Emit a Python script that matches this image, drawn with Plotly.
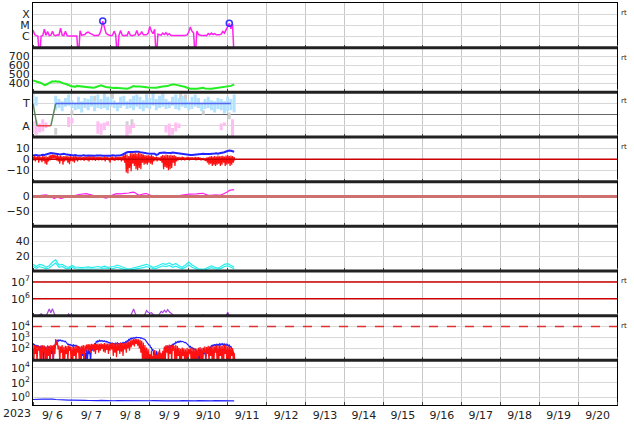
import plotly.graph_objects as go
from plotly.subplots import make_subplots
import pandas as pd

T0 = pd.Timestamp("2023-09-06 00:00")

# ---------------- data (hours since 2023-09-06 00:00) ----------------
# X-ray flux, hourly, in 1e-6 W/m2 (C1 = 1, M1 = 10, X1 = 100); 0.01 = data dropout
xray = [3.8, 1.5, 1.2, 1.1, 0.01, 1.1, 1.2, 4.5, 1.3, 2.8, 1.2, 1.3, 2.9, 1.3, 1.2, 1.4,
        1.3, 5.5, 1.3, 1.2, 3.0, 1.2, 1.1, 1.1, 1.0, 1.1, 1.0, 1.1, 0.01, 3.2, 1.3, 1.4,
        1.5, 2.2, 2.5, 2.0, 1.6, 1.3, 1.2, 1.3, 1.2, 1.6, 4.0, 24, 5.0, 2.0, 1.5, 1.3,
        1.2, 1.3, 3.0, 1.4, 0.01, 1.3, 3.5, 1.3, 1.2, 1.3, 1.2, 3.0, 1.3, 1.2, 1.3, 1.4,
        3.5, 1.3, 1.5, 2.8, 1.4, 1.3, 1.4, 2.0, 8.0, 3.0, 1.8, 4.5, 0.01, 1.6, 1.4, 1.3,
        2.0, 1.5, 2.2, 1.4, 1.8, 1.3, 1.2, 1.2, 1.1, 1.2, 1.1, 1.2, 1.1, 1.2, 1.3, 1.4,
        2.5, 7.0, 3.0, 2.0, 0.01, 3.0, 1.5, 1.3, 1.2, 1.2, 1.3, 1.2, 1.8, 1.4, 2.0, 1.5,
        1.8, 1.4, 1.3, 1.4, 1.6, 2.8, 2.0, 4.0, 8.0, 15, 5.0, 14, 0.01]
flare_hours = [43, 121]
flare_flux = [24, 15]

# Solar wind speed (km/s), hourly
wind = [433, 428, 425, 418, 414, 405, 395, 380, 385, 396, 410, 418, 424, 420, 426, 418,
        422, 415, 405, 398, 396, 388, 380, 372, 365, 368, 362, 372, 370, 365, 360, 362,
        358, 355, 350, 352, 348, 352, 355, 360, 368, 372, 378, 370, 362, 360, 358, 355,
        352, 350, 348, 352, 350, 352, 346, 342, 340, 342, 341, 345, 355, 368, 370, 366,
        362, 364, 366, 362, 364, 362, 358, 355, 352, 350, 352, 350, 352, 358, 364, 362,
        364, 366, 362, 370, 378, 385, 388, 389, 385, 378, 380, 378, 372, 365, 360, 352,
        345, 341, 340, 338, 342, 340, 343, 348, 346, 350, 344, 342, 340, 341, 339, 343,
        345, 348, 352, 350, 352, 355, 358, 362, 364, 368, 372, 380, 389]

# IMF direction panel: toward (T) / away (A) scatter spans, 2-hour bins
toward_h = [0, 2] + list(range(14, 125, 2))
toward_lo = [0.35, 0.4, 0.2, 0.3, 0.15, 0.35, 0.4, 0.3, 0.2, 0.25, 0.1, 0.3, 0.2, 0.35, 0.15,
             0.3, 0.25, 0.3, 0.2, 0.35, 0.3, 0.15, 0.3, 0.4, 0.25, 0.3, 0.2, 0.35, 0.25, 0.15,
             0.3, 0.25, 0.4, 0.2, 0.3, 0.35, 0.25, 0.3, 0.4, 0.25, 0.2, 0.35, 0.3, 0.2, 0.25,
             0.35, 0.3, 0.15, 0.25, 0.3, 0.2, 0.1, 0.25, 0.2, 0.05, 0.15, 0.2, 0.1]
toward_hi = [0.95, 0.8, 0.85, 0.7, 0.6, 0.75, 0.9, 0.65, 0.55, 0.8, 0.6, 0.75, 0.7, 0.85, 0.6,
             0.9, 0.7, 0.95, 0.8, 0.75, 0.65, 0.55, 0.8, 0.85, 0.6, 0.7, 0.85, 0.9, 0.8, 0.65,
             0.9, 0.75, 0.95, 0.7, 0.85, 0.95, 0.7, 0.6, 0.8, 0.9, 0.75, 0.85, 0.7, 0.6, 0.8,
             0.9, 0.75, 0.55, 0.7, 0.8, 0.65, 0.6, 0.75, 0.7, 0.6, 0.8, 0.7, 0.9]
away_h = [0, 2, 4, 6, 8, 22, 24, 40, 42, 44, 46, 58, 60, 62, 82, 84, 86, 88, 90, 116, 118, 123]
away_lo = [-0.85, -0.9, -0.8, -0.75, -0.6, -0.55, -0.4, -0.85, -0.9, -0.7, -0.5, -0.95, -0.85,
           -0.6, -0.8, -0.95, -0.9, -0.75, -0.6, -0.7, -0.5, -0.95]
away_hi = [-0.3, -0.25, -0.4, -0.2, -0.35, -0.1, -0.15, -0.3, -0.4, -0.35, -0.3, -0.45, -0.5,
           -0.4, -0.5, -0.4, -0.6, -0.35, -0.4, -0.4, -0.35, -0.2]
grey_h = [14, 24, 38, 49, 58, 61, 70, 80, 91, 94, 105, 121]
grey_lo = [-0.9, 0.0, 0.6, 0.7, -0.9, -0.6, 0.8, 0.6, 0.6, 0.7, 0.0, -0.2]
grey_hi = [-0.6, 0.2, 0.85, 0.95, -0.3, -0.2, 0.9, 0.95, 0.95, 0.9, 0.2, 0.1]
sector_h = [0, 2.5, 11, 14, 122]
sector_v = [0.5, -0.5, -0.5, 0.5, 0.5]

# IMF Bt (blue), nT, hourly
bt = [3.5, 3.8, 4.0, 3.6, 3.4, 3.8, 4.2, 3.9, 4.5, 5.0, 5.4, 5.8, 5.6, 5.2,
      4.8, 5.0, 4.6, 4.4, 4.9, 5.2, 4.7, 4.3, 4.0, 4.2, 3.8, 3.6, 3.9, 3.5,
      3.4, 3.6, 3.2, 3.8, 3.5, 3.3, 3.6, 3.4, 3.7, 3.5, 3.2, 3.6, 3.8, 3.5,
      3.6, 3.4, 3.3, 3.7, 3.5, 3.6, 3.4, 3.8, 3.5, 3.3, 3.6, 3.5, 3.8, 4.2,
      5.0, 6.0, 6.5, 6.8, 7.0, 7.2, 6.8, 6.9, 7.3, 7.0, 6.6, 6.2, 5.8, 5.5,
      5.6, 5.4, 5.3, 5.6, 5.5, 5.2, 4.0, 4.5, 5.8, 6.2, 6.0, 6.3, 6.1, 5.9,
      6.0, 5.8, 6.2, 6.0, 5.7, 5.5, 5.2, 4.8, 4.5, 4.2, 4.0, 4.3, 4.1, 3.9,
      4.0, 4.2, 4.0, 4.4, 4.5, 4.8, 5.0, 5.2, 4.9, 5.1, 5.0, 4.8, 5.2, 5.0,
      5.3, 5.5, 5.2, 5.6, 5.8, 6.0, 6.5, 7.2, 7.8, 8.0, 7.8, 7.6, 7.0]
# IMF Bz (red), hourly upper / lower values
bz_hi = [2.5, 3, 2, 3.5, 2.8, 2, 3, 2.5, 3, 2, 3.5, 4, 4.2, 4,
         3.5, 4, 3, 3.5, 2.5, 3, 2.8, 3.2, 2.5, 3, 2.2, 2.8, 3, 2.5,
         2, 2.5, 1.8, 2.2, 2.5, 2, 2.8, 2.4, 2, 2.5, 2.2, 2, 2.4, 2,
         2.2, 1.8, 2.5, 2, 2.2, 1.5, 2, 2.4, 1.8, 2.2, 2, 2.5, 2.2, 2.8,
         4, 5, 4.5, 3, 5.5, 6, 5, 6.5, 5, 6, 5.5, 5, 4.5, 4,
         3.5, 4, 3, 4.5, 3, 2, 2.5, 2, 1.5, 3, 4, 3.5, 4.5, 4,
         3.8, 4.2, 3.5, 4, 3, 2, 2.2, 1.8, 2.5, 2, 1.5, 2.2, 2, 1.8,
         2, 1.5, 2.2, 1.8, 2, 1.5, 1, 1.2, 0.8, 1.5, 2, 2.5, 3, 2.5,
         3, 2.5, 3.5, 2.8, 3, 3.2, 2.5, 3.5, 4, 3, 3.5, 3, 2]
bz_lo = [-1, -2, -0.5, -3, -1, -2.5, -1.5, -4, -5, -2, -1, 0.5, 1, 0.8,
         -1, -2, -4, -1.5, -5, -2, -1, -3, -4.5, -1.5, -2, -3, -1, -2,
         -0.5, -1, 0, -1.5, -0.5, -1, -2, -0.5, -1, 0, -1.5, -0.5, -1, 0,
         -1, -0.5, -2, -0.5, -1, -3, -0.5, -1, -1.5, 0, -1, -0.5, -2, -1,
         -3, -12, -13, -8, -11, -4, -6, -9, -10, -8, -9, -3, -5, -4,
         -5, -3, -4, -5, -2, -1, -2, -1, -1.5, -3, -9, -7, -8, -10,
         -9, -8, -3, -6, -2, -1, -0.5, -1, 0, -1, -0.5, 0, -1, -0.5,
         0, -0.5, -1, 0, -0.5, -1, -0.5, -1, -1.5, -3, -5, -4, -6, -5,
         -6, -5, -4, -6, -5, -3, -6, -5, -4, -6, -5, -3, -1]

# Dst index (nT), hourly
dst = [1, 0, 2, 1, 3, 4, 5, 6, 6, 4, 2, 0, -3, -7, -5, -2,
       -4, -6, -5, -3, -1, -2, -1, 0, 0, 2, 4, 5, 7, 8, 9, 9,
       10, 10, 8, 6, 5, 4, 3, 3, 2, 1, -1, -3, -4, -5, -4, -2,
       2, 5, 8, 9, 10, 9, 9, 10, 10, 11, 10, 12, 13, 14, 15, 13,
       9, 5, 6, 8, 9, 10, 10, 8, 5, 2, 0, 1, 1, 2, 2, 2,
       2, 1, 0, -1, -2, -3, -3, -2, 0, 2, 3, 4, 5, 5, 6, 7,
       8, 8, 8, 7, 8, 9, 10, 11, 12, 11, 8, 5, 4, 4, 5, 5,
       5, 6, 5, 5, 6, 8, 10, 12, 16, 21, 22, 23, 23]

# Cyan pair, 2-hourly
cyan_hi = [9, 6, 9, 8, 5, 7, 12, 15, 8, 9, 6, 5, 7.5, 5, 5, 4.5, 5, 5.5, 4.5, 5, 6, 5, 6.5,
           5, 5, 6, 8, 6, 4, 3, 3, 4, 5.5, 6, 7, 9, 7, 5, 6, 8, 10, 9, 11, 8, 10, 7, 5, 8,
           12, 8, 5, 3, 2.5, 3, 5, 7, 5, 4, 6, 9, 10, 8, 5]
cyan_lo = [6, 3.5, 6, 5, 3, 4, 8, 11, 5, 6, 3.5, 3, 5, 3, 2.5, 2.5, 3, 3, 2.5, 3, 3.5, 3,
           4, 3, 3, 3.5, 5, 3.5, 2, 1.5, 1.5, 2, 3, 3.5, 4.5, 6, 4.5, 3, 3.5, 5, 7, 6, 7.5,
           5, 6.5, 4.5, 3, 5, 8, 5, 3, 1.5, 1.2, 1.5, 3, 4.5, 3, 2.5, 3.5, 6, 7, 5, 3]

# Electron flux (purple), hourly
electron = [6e4, 5e4, 7e4, 8e4, 1.1e5, 1.3e5, 1.1e5, 8e4, 9e4, 1.6e5, 2.5e5, 1.5e5, 2.6e5,
            1.4e5, 8e4, 6e4, 5e4, 4e4, 5e4, 6e4, 7e4, 9e4, 1.3e5, 8e4, 6e4, 5e4, 4e4, 4e4,
            3e4, 4e4, 5e4, 4e4, 3e4, 4e4, 5e4, 4e4, 3e4, 4e4, 5e4, 6e4, 5e4, 4e4, 5e4, 4e4,
            5e4, 6e4, 5e4, 4e4, 5e4, 6e4, 7e4, 6e4, 5e4, 6e4, 7e4, 8e4, 7e4, 6e4, 7e4, 8e4,
            9e4, 1.5e5, 2.5e5, 1.4e5, 9e4, 8e4, 7e4, 8e4, 9e4, 1.2e5, 2.0e5, 1.6e5, 1.4e5,
            1.5e5, 1.2e5, 9e4, 8e4, 9e4, 1.3e5, 1.8e5, 1.5e5, 2.1e5, 1.6e5, 2.3e5, 1.7e5,
            1.5e5, 1.2e5, 9e4, 8e4, 7e4, 6e4, 5e4, 6e4, 5e4, 4e4, 5e4, 6e4, 5e4, 4e4, 5e4,
            6e4, 7e4, 8e4, 9e4, 9e4, 1.1e5, 8e4, 7e4, 6e4, 5e4, 6e4, 5e4, 6e4, 7e4, 6e4,
            5e4, 6e4, 7e4, 8e4, 9e4, 1.6e5, 9e4, 7e4, 6e4, 5e4]

# Proton flux, hourly upper / lower values (5 = below panel)
pb_hi = [300, 220, 180, 200, 160, 180, 150, 170, 140, 160, 150, 130, 150, 200,
         500, 550, 600, 580, 520, 480, 450,
         300, 250, 220, 200, 210, 190, 180, 150,
         100, 60, 120, 40, 80, 100, 60, 150, 200, 300,
         450, 500, 550, 520, 500, 480, 450, 400,
         350, 320, 300, 280, 300, 320, 280, 300, 330, 350, 400, 500, 650,
         800, 900, 950, 1000, 1050, 1000, 950, 900, 800, 650,
         450, 300, 200, 120, 80,
         40, 60, 30, 50, 25, 40,
         120, 150, 180, 160, 200, 250, 300, 380,
         420, 450, 460, 440, 400, 350,
         250, 180, 150, 120, 100, 90,
         60, 40, 80, 50, 100, 70, 120, 90, 150,
         200, 220, 240, 230, 250, 260, 280, 270, 250, 240, 220, 200, 150, 80, 20]
pb_lo = [200, 150, 120, 100, 80, 60, 5, 40, 5, 60, 5, 30, 5, 100,
         400, 450, 500, 480, 450, 400, 380,
         220, 200, 180, 160, 170, 150, 140, 100,
         5, 20, 5, 10, 5, 30, 5, 60, 120, 200,
         380, 420, 450, 450, 420, 400, 380, 330,
         280, 260, 250, 230, 250, 260, 230, 250, 270, 290, 330, 420, 550,
         700, 800, 850, 900, 950, 900, 850, 800, 700, 500,
         350, 200, 120, 60, 20,
         5, 10, 5, 10, 5, 5,
         60, 80, 100, 90, 130, 180, 240, 320,
         360, 380, 400, 380, 340, 300,
         180, 130, 110, 90, 70, 50,
         5, 10, 20, 5, 30, 10, 50, 20, 80,
         140, 160, 180, 170, 190, 200, 210, 200, 190, 180, 160, 140, 100, 40, 5]
pr_hi = [180, 200, 170, 190, 160, 180, 200, 170, 150, 190, 170, 200, 180, 220,
         700, 400,
         180, 150, 200, 140, 170, 160, 190, 150, 130, 170, 140, 180, 160, 150, 170, 200, 180, 220,
         250, 230, 260, 240, 280, 250, 270, 260, 290, 250, 300, 270, 280, 260, 290,
         300, 280, 320, 300, 290, 330, 310, 300, 350, 380, 420,
         550, 650, 700, 750, 700, 680, 600, 500,
         350, 200, 120, 80,
         30, 60, 20, 70, 25, 50, 80, 40, 60,
         150, 200, 180, 220, 190, 210, 170, 200, 160,
         110, 90, 120, 100, 80, 110, 90, 100, 120, 80, 100, 90, 110, 130, 100, 120,
         150, 130, 170, 140, 160, 180, 150, 190, 170, 200, 160, 180, 210, 170, 150, 180, 130, 100, 40]
pr_lo = [5, 30, 5, 60, 5, 5, 40, 5, 5, 20, 5, 60, 5, 30,
         200, 80,
         5, 40, 5, 5, 30, 5, 60, 5, 5, 20, 5, 40, 5, 5, 30, 5, 50, 80,
         60, 40, 80, 50, 30, 70, 40, 60, 90, 50, 40, 70, 30, 60, 80,
         20, 40, 15, 60, 30, 50, 20, 80, 40, 100, 60,
         120, 200, 150, 250, 180, 100, 40, 5,
         5, 5, 5, 5,
         5, 5, 5, 5, 5, 5, 5, 5, 5,
         5, 40, 5, 30, 5, 60, 5, 5, 20,
         5, 5, 20, 5, 5, 5, 30, 5, 5, 5, 5, 5, 20, 5, 5, 40,
         5, 30, 5, 20, 5, 5, 40, 5, 5, 20, 5, 5, 30, 5, 5, 5, 20, 5, 5]

# Bottom panel (blue), 2-hourly
bottom_blue = [0.55, 0.6, 0.58, 0.62, 0.6, 0.65, 0.6, 0.55, 0.5, 0.52, 0.48, 0.45, 0.45,
               0.42, 0.44, 0.4, 0.42, 0.4, 0.38, 0.4, 0.39, 0.41, 0.38, 0.4, 0.39, 0.37,
               0.39, 0.38, 0.4, 0.37, 0.38, 0.36, 0.38, 0.37, 0.39, 0.36, 0.37, 0.38, 0.36,
               0.37, 0.38, 0.36, 0.37, 0.35, 0.37, 0.36, 0.38, 0.36, 0.35, 0.37, 0.36, 0.38,
               0.36, 0.35, 0.37, 0.36, 0.38, 0.37, 0.36, 0.38, 0.37, 0.36, 0.36]

day_labels_start = "2023-09-06"
day_labels_end = "2023-09-21"


def t(hours):
    return [T0 + pd.Timedelta(hours=h) for h in hours]


def hourly(values, step=1):
    return t([i * step for i in range(len(values))])


def spans(hs, los, his):
    xs, ys = [], []
    for h, lo, hi in zip(hs, los, his):
        xs += [T0 + pd.Timedelta(hours=h)] * 2 + [None]
        ys += [lo, hi, None]
    return xs, ys


def zigzag(hi, lo):
    xs, ys = [], []
    for i, (a, b) in enumerate(zip(hi, lo)):
        xs += [T0 + pd.Timedelta(hours=i), T0 + pd.Timedelta(hours=i + 0.5)]
        ys += [a, b]
    return xs, ys


fig = make_subplots(rows=9, cols=1, shared_xaxes=True, vertical_spacing=0)

# Row 1: X-ray
fig.add_trace(go.Scatter(x=hourly(xray), y=xray, mode="lines",
                         line=dict(color="#ff22ee", width=1.5)), row=1, col=1)
fig.add_trace(go.Scatter(x=t(flare_hours), y=flare_flux, mode="markers",
                         marker=dict(symbol="circle-open", size=6, color="#3333ff",
                                     line=dict(width=1.5))), row=1, col=1)
# Row 2: wind
fig.add_trace(go.Scatter(x=hourly(wind), y=wind, mode="lines",
                         line=dict(color="#22ee22", width=2)), row=2, col=1)
# Row 3: sector
for hs, lo, hi, col in [(grey_h, grey_lo, grey_hi, "#d0d0d0"),
                        (away_h, away_lo, away_hi, "#ffbdf2"),
                        (toward_h, toward_lo, toward_hi, "#b2e2ff")]:
    xs, ys = spans(hs, lo, hi)
    fig.add_trace(go.Scatter(x=xs, y=ys, mode="lines", line=dict(color=col, width=3)),
                  row=3, col=1)
for i in range(len(sector_h) - 1):
    v0, v1 = sector_v[i], sector_v[i + 1]
    col = "#5a8a5a" if v0 != v1 else ("#ee4444" if v0 < 0 else "#5566ee")
    fig.add_trace(go.Scatter(x=t(sector_h[i:i + 2]), y=sector_v[i:i + 2], mode="lines",
                             line=dict(color=col, width=1.5)), row=3, col=1)
# Row 4: IMF
fig.add_trace(go.Scatter(x=hourly(bt), y=bt, mode="lines",
                         line=dict(color="#2222ff", width=2)), row=4, col=1)
zx, zy = zigzag(bz_hi, bz_lo)
fig.add_trace(go.Scatter(x=zx, y=zy, mode="lines",
                         line=dict(color="#ff1111", width=1.2)), row=4, col=1)
# Row 5: Dst
fig.add_trace(go.Scatter(x=hourly(dst), y=dst, mode="lines",
                         line=dict(color="#ff22ee", width=1.2)), row=5, col=1)
# Row 6: cyan
fig.add_trace(go.Scatter(x=hourly(cyan_hi, 2), y=cyan_hi, mode="lines",
                         line=dict(color="#22eeee", width=1.2)), row=6, col=1)
fig.add_trace(go.Scatter(x=hourly(cyan_lo, 2), y=cyan_lo, mode="lines",
                         line=dict(color="#22eeee", width=1.2)), row=6, col=1)
# Row 7: electrons
fig.add_trace(go.Scatter(x=hourly(electron), y=electron, mode="lines",
                         line=dict(color="#aa44dd", width=1.2)), row=7, col=1)
# Row 8: protons
bx, by = zigzag(pb_hi, pb_lo)
fig.add_trace(go.Scatter(x=bx, y=by, mode="lines",
                         line=dict(color="#2222ff", width=1.2)), row=8, col=1)
rx, ry = zigzag(pr_hi, pr_lo)
fig.add_trace(go.Scatter(x=rx, y=ry, mode="lines",
                         line=dict(color="#ff1111", width=1.2)), row=8, col=1)
# Row 9
fig.add_trace(go.Scatter(x=hourly(bottom_blue, 2), y=bottom_blue, mode="lines",
                         line=dict(color="#2222ff", width=1.2)), row=9, col=1)

GRID = "#d8d8d8"
sup = lambda n: "10<sup>%d</sup>" % n

yspec = {
    1: dict(type="log", range=[-1, 3], tickvals=[1, 10, 100], ticktext=["C", "M", "X"]),
    2: dict(range=[300, 800], tickvals=[400, 500, 600, 700]),
    3: dict(range=[-1, 1], tickvals=[0.5, -0.5], ticktext=["T", "A"],
            zeroline=True, zerolinecolor="#666666", zerolinewidth=1),
    4: dict(range=[-20.5, 20.5], tickvals=[10, 0, -10]),
    5: dict(range=[-100, 50], tickvals=[0, -50]),
    6: dict(range=[0, 60], tickvals=[20, 40]),
    7: dict(type="log", range=[5, 7.65], tickvals=[1e6, 1e7], ticktext=[sup(6), sup(7)]),
    8: dict(type="log", range=[0.9, 5], tickvals=[1e2, 1e3, 1e4],
            ticktext=[sup(2), sup(3), sup(4)]),
    9: dict(type="log", range=[-1, 5], tickvals=[1, 1e2, 1e4],
            ticktext=[sup(0), sup(2), sup(4)]),
}
for r, spec in yspec.items():
    base = dict(showgrid=True, gridcolor=GRID, gridwidth=1, zeroline=spec.pop("zeroline", False),
                showline=True, linecolor="black", linewidth=1, mirror=True,
                ticks="", tickfont=dict(size=11, color="#222"), fixedrange=True)
    base.update(spec)
    fig.update_yaxes(row=r, col=1, **base)

fig.update_xaxes(type="date", range=[day_labels_start, day_labels_end],
                 dtick=86400000, tick0=day_labels_start, showgrid=True, gridcolor="#c8c8c8",
                 showline=True, linecolor="black", linewidth=1, mirror=True,
                 ticks="inside", ticklen=3, tickcolor="#444",
                 ticklabelmode="period", tickformat="%-m/%e",
                 tickfont=dict(size=11, color="#222"))

# reference lines
hl = [(4, 0, "#cc0000", 1.5, "solid"), (5, 0, "#cc7070", 3, "solid"),
      (7, 1e6, "#cc0000", 1.5, "solid"), (7, 1e7, "#cc0000", 1.5, "solid"),
      (8, 1e4, "#e03030", 1.5, "dash")]
for r, yv, col, w, dash in hl:
    fig.add_shape(type="line", xref="x domain" if r == 1 else "x%d domain" % r,
                  yref="y" if r == 1 else "y%d" % r, x0=0, x1=1, y0=yv, y1=yv,
                  line=dict(color=col, width=w, dash=dash), layer="above")

# thick panel separators
for k in range(1, 9):
    yy = k / 9
    fig.add_shape(type="line", xref="paper", yref="paper", x0=0, x1=1, y0=yy, y1=yy,
                  line=dict(color="#222", width=3))

# "rt" markers on the right
for ypx in [12, 57, 101, 147, 282, 327]:
    fig.add_annotation(x=1.004, y=(407 - ypx) / 405, xref="paper", yref="paper",
                       text="rt", showarrow=False, xanchor="left", yanchor="middle",
                       font=dict(size=7, color="#222"))
fig.add_annotation(x=-0.028, y=-0.02, xref="paper", yref="paper", text="2023",
                   showarrow=False, xanchor="center", yanchor="middle",
                   font=dict(size=11, color="#222"))

fig.update_layout(width=634, height=424, margin=dict(l=33, r=17, t=2, b=17),
                  paper_bgcolor="white", plot_bgcolor="white", showlegend=False,
                  font=dict(family="DejaVu Sans", size=11, color="#222"))
fig.write_html("out.html", config={"displayModeBar": False},
               post_script="document.body.style.margin='0';")
